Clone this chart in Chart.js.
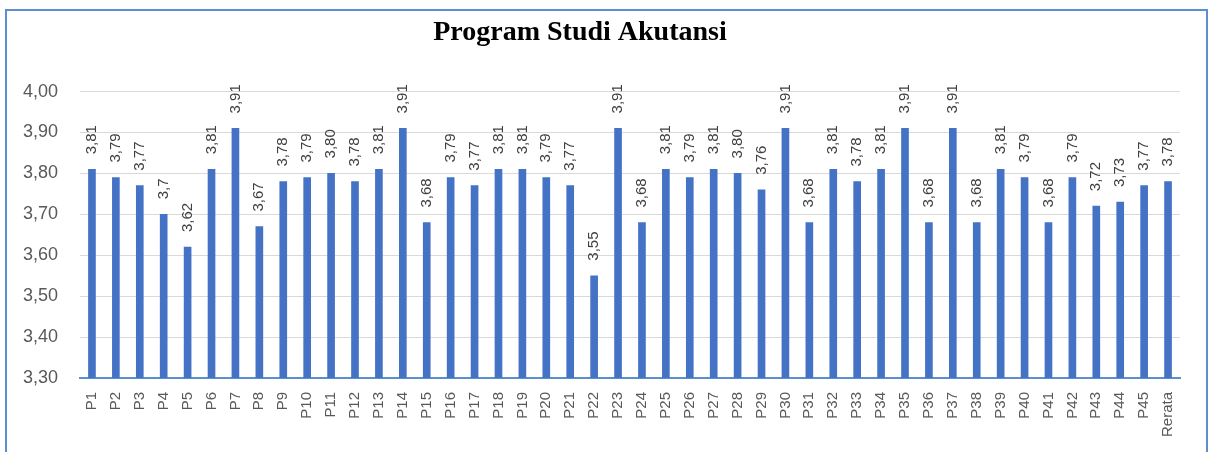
<!DOCTYPE html>
<html lang="id">
<head>
  <meta charset="UTF-8">
  <title>Program Studi Akutansi</title>
  <style>
    * { box-sizing: border-box; margin:0; padding:0; }
    body { background:#fff; width:1209px; height:452px; overflow:hidden; position:relative; }
    .frame {
      position:absolute; left:5px; top:9px; width:1203px; height:460px;
      border:2px solid #5b8fce;
    }
    canvas { position:absolute; left:-20px; top:0; }
  </style>
  <script src="https://cdn.jsdelivr.net/npm/chart.js"></script>
</head>
<body>
  <div class="frame"></div>
  <canvas id="chart" width="1229" height="452"></canvas>

  <script>
    const categories = ['P1','P2','P3','P4','P5','P6','P7','P8','P9','P10',
      'P11','P12','P13','P14','P15','P16','P17','P18','P19','P20',
      'P21','P22','P23','P24','P25','P26','P27','P28','P29','P30',
      'P31','P32','P33','P34','P35','P36','P37','P38','P39','P40',
      'P41','P42','P43','P44','P45','Rerata'];
    const scores = [3.81,3.79,3.77,3.70,3.62,3.81,3.91,3.67,3.78,3.79,
      3.80,3.78,3.81,3.91,3.68,3.79,3.77,3.81,3.81,3.79,
      3.77,3.55,3.91,3.68,3.81,3.79,3.81,3.80,3.76,3.91,
      3.68,3.81,3.78,3.81,3.91,3.68,3.91,3.68,3.81,3.79,
      3.68,3.79,3.72,3.73,3.77,3.78];
    const valueLabels = ['3,81','3,79','3,77','3,7','3,62','3,81','3,91','3,67','3,78','3,79',
      '3,80','3,78','3,81','3,91','3,68','3,79','3,77','3,81','3,81','3,79',
      '3,77','3,55','3,91','3,68','3,81','3,79','3,81','3,80','3,76','3,91',
      '3,68','3,81','3,78','3,81','3,91','3,68','3,91','3,68','3,81','3,79',
      '3,68','3,79','3,72','3,73','3,77','3,78'];
    const yTicks = [3.3, 3.4, 3.5, 3.6, 3.7, 3.8, 3.9, 4.0];

    // rotated value labels above each bar
    const barLabels = {
      id: 'barLabels',
      afterDatasetsDraw(chart) {
        const ctx = chart.ctx;
        const meta = chart.getDatasetMeta(0);
        ctx.save();
        ctx.fillStyle = '#404040';
        ctx.font = '15px "Liberation Sans", Arial, sans-serif';
        ctx.textAlign = 'left';
        ctx.textBaseline = 'middle';
        meta.data.forEach((bar, i) => {
          ctx.save();
          ctx.translate(bar.x, bar.y - 15);
          ctx.rotate(-Math.PI / 2);
          ctx.fillText(valueLabels[i], 0, 0);
          ctx.restore();
        });
        ctx.restore();
      }
    };

    new Chart(document.getElementById('chart').getContext('2d'), {
      type: 'bar',
      data: {
        labels: categories,
        datasets: [{
          data: scores,
          backgroundColor: '#4472C4',
          barThickness: 7
        }]
      },
      options: {
        responsive: false,
        animation: false,
        layout: { padding: { left: 0, right: 29, top: 0, bottom: 0 } },
        plugins: {
          legend: { display: false },
          tooltip: { enabled: false },
          title: {
            display: true,
            text: 'Program Studi Akutansi',
            color: '#000',
            font: { family: '"Liberation Serif", "Times New Roman", serif', size: 28, weight: 'bold' },
            padding: { top: 16, bottom: 42 }
          }
        },
        scales: {
          x: {
            grid: { display: false },
            border: { color: '#5b8fce', width: 2 },
            ticks: {
              color: '#595959',
              font: { family: '"Liberation Sans", Arial, sans-serif', size: 15 },
              minRotation: 90, maxRotation: 90,
              autoSkip: false,
              padding: 6
            },
            afterFit(scale) { scale.height = 74; }
          },
          y: {
            min: 3.3, max: 4.0,
            afterBuildTicks(scale) { scale.ticks = yTicks.map(v => ({ value: v })); },
            grid: { color: '#d9d9d9', drawTicks: false },
            border: { display: false },
            ticks: {
              color: '#595959',
              font: { family: '"Liberation Sans", Arial, sans-serif', size: 18 },
              padding: 22,
              callback: v => v.toFixed(2).replace('.', ',')
            },
            afterFit(scale) { scale.width = 100; }
          }
        }
      },
      plugins: [barLabels]
    });
  </script>
</body>
</html>
